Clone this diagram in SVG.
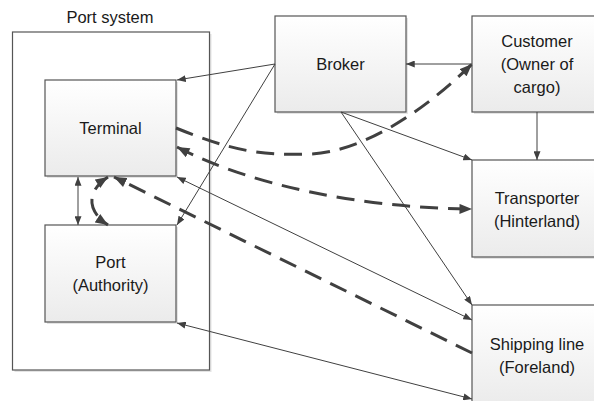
<svg xmlns="http://www.w3.org/2000/svg" width="594" height="401" viewBox="0 0 594 401">
<style>
.box{fill:url(#g);stroke:#555555;stroke-width:1.2}
.sh{fill:#e4e4e4}
.frame{fill:#ffffff;stroke:#555555;stroke-width:1.2}
.t{font-family:"Liberation Sans",Arial,sans-serif;font-size:16.5px;fill:#1a1a1a;text-anchor:middle}
.thin{fill:none;stroke:#404040;stroke-width:1}
.dash{fill:none;stroke:#404040;stroke-width:3;stroke-dasharray:18 10}
</style>
<defs>
<linearGradient id="g" x1="0" y1="0" x2="0" y2="1">
<stop offset="0" stop-color="#ffffff"/>
<stop offset="1" stop-color="#ebebeb"/>
</linearGradient>
<marker id="a" viewBox="0 0 10 8" refX="10" refY="4" markerWidth="9" markerHeight="7" markerUnits="userSpaceOnUse" orient="auto-start-reverse">
<path d="M0,0 L10,4 L0,8 z" fill="#404040"/>
</marker>
<marker id="A" viewBox="0 0 10 8" refX="10" refY="4" markerWidth="13" markerHeight="10" markerUnits="userSpaceOnUse" orient="auto-start-reverse">
<path d="M0,0 L10,4 L0,8 z" fill="#404040"/>
</marker>
</defs>
<rect width="594" height="401" fill="#ffffff"/>

<g id="port-system">
<rect class="sh" x="14.5" y="34" width="197" height="338"/>
<rect class="frame" x="12.5" y="32" width="197" height="338"/>
<text class="t" x="110" y="23">Port system</text>
</g>

<g id="terminal">
<rect class="sh" x="47" y="82" width="131" height="96"/>
<rect class="box" x="45" y="80" width="131" height="96"/>
<text class="t" x="110.5" y="134">Terminal</text>
</g>

<g id="port">
<rect class="sh" x="47" y="227" width="131" height="97"/>
<rect class="box" x="45" y="225" width="131" height="97"/>
<text class="t" x="110.5" y="268">Port</text>
<text class="t" x="110.5" y="291">(Authority)</text>
</g>

<g id="broker">
<rect class="sh" x="277" y="18" width="131" height="96"/>
<rect class="box" x="275" y="16" width="131" height="96"/>
<text class="t" x="340.5" y="70">Broker</text>
</g>

<g id="customer">
<rect class="sh" x="474" y="18" width="131" height="96"/>
<rect class="box" x="472" y="16" width="131" height="96"/>
<text class="t" x="537" y="47">Customer</text>
<text class="t" x="537" y="70">(Owner of</text>
<text class="t" x="537" y="93">cargo)</text>
</g>

<g id="transporter">
<rect class="sh" x="474" y="162" width="131" height="97"/>
<rect class="box" x="472" y="160" width="131" height="97"/>
<text class="t" x="537" y="204">Transporter</text>
<text class="t" x="537" y="227">(Hinterland)</text>
</g>

<g id="shipping-line">
<rect class="sh" x="474" y="307" width="131" height="100"/>
<rect class="box" x="472" y="305" width="131" height="100"/>
<text class="t" x="537" y="350">Shipping line</text>
<text class="t" x="537" y="373">(Foreland)</text>
</g>

<g id="connectors">
<path class="thin" d="M275,64 L177,80" marker-end="url(#a)"/>
<path class="thin" d="M275,64 L177,225" marker-end="url(#a)"/>
<path class="thin" d="M472,64 L406,64" marker-end="url(#a)"/>
<path class="thin" d="M537,112 L537,160" marker-end="url(#a)"/>
<path class="thin" d="M341,112 L472,160" marker-end="url(#a)"/>
<path class="thin" d="M341,112 L472,305" marker-end="url(#a)"/>
<path class="thin" d="M177,177 L472,320" marker-start="url(#a)" marker-end="url(#a)"/>
<path class="thin" d="M177,323 L472,399" marker-start="url(#a)" marker-end="url(#a)"/>
<path class="thin" d="M78,177 L78,225" stroke-width="1.3" marker-start="url(#a)" marker-end="url(#a)"/>
<path class="dash" d="M176,128 C230,150 260,156 310,154 C360,152 420,115 472,64" marker-end="url(#A)"/>
<path class="dash" d="M177,147 C250,185 360,208 472,209" marker-start="url(#A)" marker-end="url(#A)"/>
<path class="dash" d="M472,353 L114,177" marker-end="url(#A)"/>
<path class="dash" d="M108,177 C85,192 88,212 108,225" stroke-dasharray="14 8" marker-start="url(#A)" marker-end="url(#A)"/>
</g>
</svg>
